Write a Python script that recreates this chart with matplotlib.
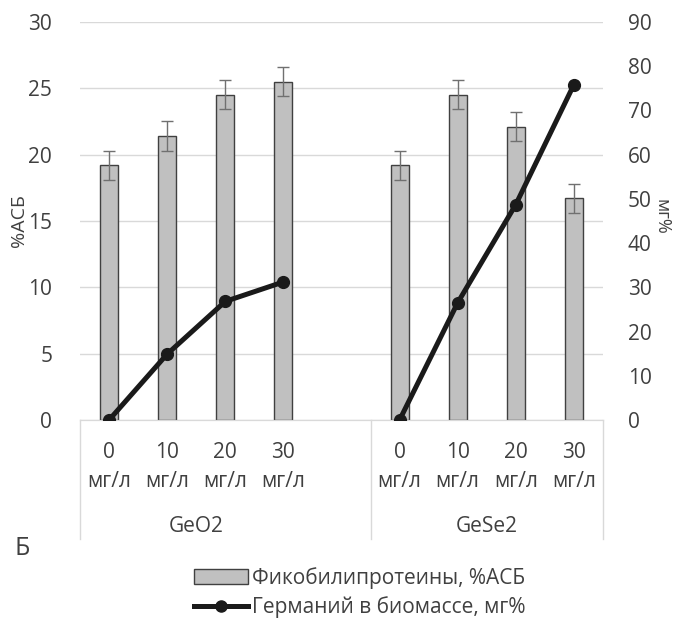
import matplotlib.pyplot as plt
import matplotlib.patches as mpatches
import matplotlib.lines as mlines

plt.rcParams['font.family'] = ['Open Sans', 'DejaVu Sans']

groups = ["GeO2", "GeSe2"]
doses = ["0\nмг/л", "10\nмг/л", "20\nмг/л", "30\nмг/л"]

# фикобилипротеины, %АСБ
geo2_bars = [19.2, 21.4, 24.5, 25.5]
gese2_bars = [19.2, 24.5, 22.1, 16.7]
geo2_err = [1.1, 1.1, 1.1, 1.1]
gese2_err = [1.1, 1.1, 1.1, 1.1]

# германий в биомассе, мг%
geo2_ge = [0, 14.9, 26.8, 31.2]
gese2_ge = [0, 26.5, 48.7, 75.8]
geo2_ge_err = [0, 0.5, 0.5, 0.6]
gese2_ge_err = [0, 0.5, 0.6, 0.8]

FS = 15
TC = "#404040"

fig = plt.figure(figsize=(6.73, 6.29), dpi=100)
ax = fig.add_axes([0.1189, 0.3323, 0.777, 0.633])
ax2 = ax.twinx()

n = len(doses)
x1 = list(range(n))
x2 = [i + n + 1 for i in range(n)]

bar_kw = dict(width=0.31, color="#c0c0c0", edgecolor="#404040", linewidth=1.0,
              error_kw=dict(ecolor="#707070", elinewidth=1.0, capsize=4, capthick=1.0), zorder=3)
ax.bar(x1, geo2_bars, yerr=geo2_err, **bar_kw)
ax.bar(x2, gese2_bars, yerr=gese2_err, **bar_kw)

line_kw = dict(color="#1a1a1a", linewidth=3.6, marker="o", markersize=8.5,
               ecolor="#1a1a1a", elinewidth=1, capsize=3, zorder=4)
ax2.errorbar(x1, geo2_ge, yerr=geo2_ge_err, **line_kw)
ax2.errorbar(x2, gese2_ge, yerr=gese2_ge_err, **line_kw)

ax.set_xlim(-0.5, 2 * n + 0.5)
ax.set_ylim(0, 30)
ax.set_yticks(range(0, 31, 5))
ax2.set_ylim(0, 90)
ax2.set_yticks(range(0, 91, 10))
ax.grid(axis="y", color="#d9d9d9", linewidth=1)
ax.set_axisbelow(True)
ax.set_zorder(ax2.get_zorder() - 1)
ax.patch.set_visible(False)

for a in (ax, ax2):
    for s in ("top", "left", "right"):
        a.spines[s].set_visible(False)
    a.spines["bottom"].set_color("#d9d9d9")
    a.tick_params(length=0, labelsize=FS, colors=TC)
ax.tick_params(axis="y", pad=20)
ax2.tick_params(axis="y", pad=18)

ax.set_xticks(x1 + x2)
ax.set_xticklabels(doses + doses, linespacing=1.5)
ax.tick_params(axis="x", pad=16)

ax.set_ylabel("%АСБ", fontsize=FS - 1, color=TC, va="center")
ax.yaxis.set_label_coords(-0.116, 0.5)
ax2.set_ylabel("мг%", fontsize=FS - 2, color=TC, rotation=-90, va="center")
ax2.yaxis.set_label_coords(1.112, 0.51)

# разделители групп
tr = ax.get_xaxis_transform()
for xb in (-0.5, n + 0.5, 2 * n + 0.5):
    ax.plot([xb, xb], [0, -0.30], transform=tr, color="#d9d9d9", linewidth=1, clip_on=False)
ax.text((x1[0] + x1[-1]) / 2, -0.268, groups[0], transform=tr, ha="center", va="center",
        fontsize=FS, color=TC)
ax.text((x2[0] + x2[-1]) / 2, -0.268, groups[1], transform=tr, ha="center", va="center",
        fontsize=FS, color=TC)

fig.text(0.021, 0.128, "Б", fontsize=18, color=TC, va="center")

h1 = mpatches.Patch(facecolor="#c0c0c0", edgecolor="#404040", linewidth=1)
h2 = mlines.Line2D([], [], color="#1a1a1a", linewidth=3.6, marker="o", markersize=8)
fig.legend([h1, h2], ["Фикобилипротеины, %АСБ", "Германий в биомассе, мг%"],
           loc="center", bbox_to_anchor=(0.535, 0.058), frameon=False, fontsize=FS,
           handlelength=2.6, handletextpad=0.2, labelspacing=0.35, labelcolor=TC)

fig.savefig("out.png", dpi=100)
